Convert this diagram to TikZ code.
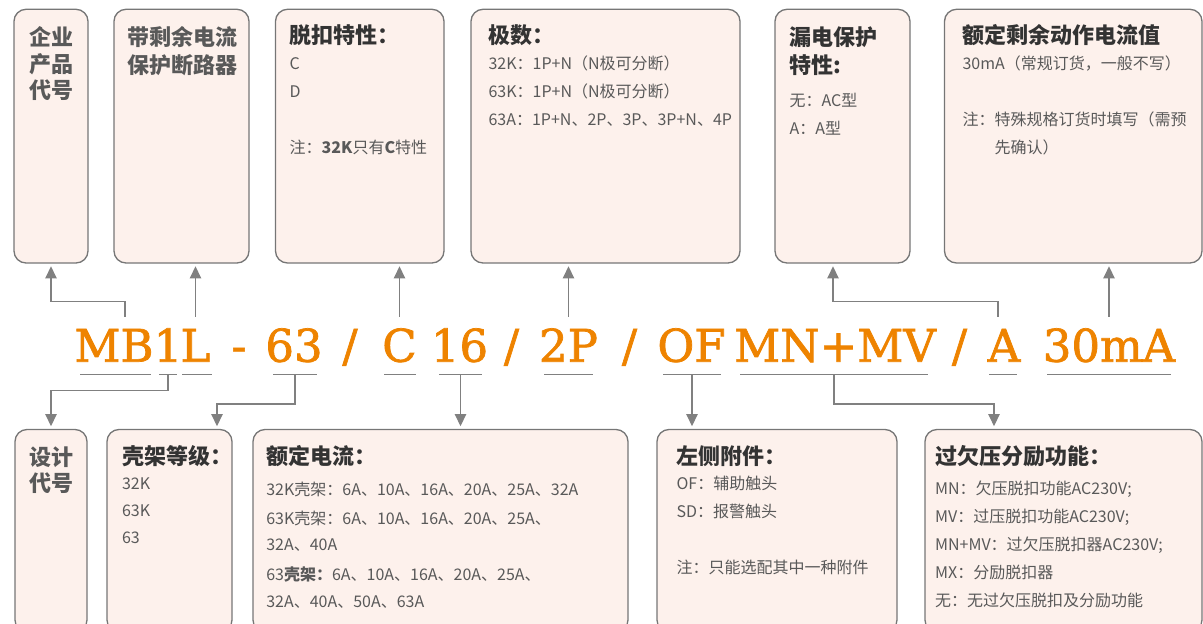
\documentclass[tikz,border=0pt]{standalone}
\usepackage{fontspec}
\setmainfont{Noto Sans CJK SC}
\newfontfamily\codefont{DejaVu Serif}[FakeBold=1.6]
\usetikzlibrary{arrows.meta,positioning,fit,calc}
\definecolor{boxfill}{RGB}{253,241,236}
\definecolor{boxgray}{RGB}{118,118,118}
\definecolor{linegray}{RGB}{128,128,128}
\definecolor{codeorange}{RGB}{238,131,0}
\definecolor{headdark}{RGB}{51,51,51}
\definecolor{bodygray}{RGB}{89,89,89}
\newcommand{\headfnt}{\fontsize{16.5pt}{21pt}\selectfont\bfseries\color{headdark}}
\newcommand{\bodyfnt}{\fontsize{12pt}{21pt}\selectfont}

\begin{document}
\begin{tikzpicture}[x=0.75pt, y=-0.75pt,
  tbox/.style={draw=boxgray, fill=boxfill, line width=1pt, rounded corners=9pt, inner sep=0pt},
  boxtext/.style={anchor=north west, align=left, inner sep=0pt, font=\bodyfnt, text=bodygray},
  codetxt/.style={font=\codefont\fontsize{33.75pt}{40pt}\selectfont, text=codeorange,
                  inner sep=0pt, text height=33.5pt, text depth=0pt, anchor=base},
  uline/.style={draw=linegray, line width=1pt},
  conn/.style={draw=linegray, line width=1pt, -{Triangle[length=9pt, width=8.5pt]}, shorten >=2pt}
]
\useasboundingbox (0,0) rectangle (1203,624);

% top row of boxes
\node[tbox, fit={(14,9.3) (88,263)}] (tcompany) {};
\node[tbox, fit={(114,9.3) (249,263)}] (tproduct) {};
\node[tbox, fit={(275.5,9.3) (444,263)}] (ttrip) {};
\node[tbox, fit={(471,9.3) (740,263)}] (tpole) {};
\node[tbox, fit={(775,9.3) (910,263)}] (tleak) {};
\node[tbox, fit={(944.5,9.3) (1202,263)}] (trated) {};

\node[boxtext, font=\headfnt] (tcompany-txt) at ($(tcompany.north west)+(16,17.7)$)
  {企业\\[-1pt]产品\\[-1pt]代号};
\node[boxtext, font=\headfnt] (tproduct-txt) at ($(tproduct.north west)+(14,17.7)$)
  {带剩余电流\\保护断路器};
\node[boxtext] (ttrip-txt) at ($(ttrip.north west)+(14.5,16)$)
  {{\headfnt 脱扣特性：}\\[-2pt]
   C\\
   D\\[21pt]
   注：\textbf{32K}只有\textbf{C}特性};
\node[boxtext] (tpole-txt) at ($(tpole.north west)+(18,16)$)
  {{\headfnt 极数：}\\[-2pt]
   32K：1P+N（N极可分断）\\
   63K：1P+N（N极可分断）\\
   63A：1P+N、2P、3P、3P+N、4P};
\node[boxtext] (tleak-txt) at ($(tleak.north west)+(15,17.7)$)
  {{\headfnt 漏电保护}\\
   {\headfnt 特性:}\\[4pt]
   无：AC型\\
   A：A型};
\node[boxtext] (trated-txt) at ($(trated.north west)+(18.5,16)$)
  {{\headfnt 额定剩余动作电流值}\\[-2pt]
   30mA（常规订货，一般不写）\\[21pt]
   注：特殊规格订货时填写（需预\\
   \hspace*{2em}先确认）};

% bottom row of boxes
\node[tbox, fit={(15,429.5) (87,632)}] (bdesign) {};
\node[tbox, fit={(107,429.5) (232,632)}] (bframe) {};
\node[tbox, fit={(253,429.5) (628,632)}] (bcurrent) {};
\node[tbox, fit={(657,429.5) (897,632)}] (baccess) {};
\node[tbox, fit={(925,429.5) (1202,632)}] (bvolt) {};

\node[boxtext, font=\headfnt] (bdesign-txt) at ($(bdesign.north west)+(15,17.5)$)
  {设计\\[-1.5pt]代号};
\node[boxtext] (bframe-txt) at ($(bframe.north west)+(15.5,16.5)$)
  {{\headfnt 壳架等级：}\\[-2.5pt]
   32K\\[-0.75pt]
   63K\\[-0.75pt]
   63};
\node[boxtext] (bcurrent-txt) at ($(bcurrent.north west)+(13.7,16.5)$)
  {{\headfnt 额定电流：}\\[2pt]
   32K壳架：6A、10A、16A、20A、25A、32A\\[0.75pt]
   63K壳架：6A、10A、16A、20A、25A、\\[-1.5pt]
   32A、40A\\[1.5pt]
   63\textbf{壳架：}6A、10A、16A、20A、25A、\\[-0.75pt]
   32A、40A、50A、63A};
\node[boxtext] (baccess-txt) at ($(baccess.north west)+(20,16.5)$)
  {{\headfnt 左侧附件：}\\[-2.5pt]
   OF：辅助触头\\
   SD：报警触头\\[21pt]
   注：只能选配其中一种附件};
\node[boxtext] (bvolt-txt) at ($(bvolt.north west)+(10.5,16.5)$)
  {{\headfnt 过欠压分励功能：}\\[1pt]
   MN：欠压脱扣功能AC230V;\\
   MV：过压脱扣功能AC230V;\\
   MN+MV：过欠压脱扣器AC230V;\\
   MX：分励脱扣器\\
   无：无过欠压脱扣及分励功能};

% model code
\node[codetxt] (mb) at (114,361.7) {MB};
\node[codetxt] (one) at (168,361.7) {1};
\node[codetxt] (l) at (195.5,361.7) {L};
\node[codetxt] (dash) at (239,361.7) {-};
\node[codetxt] (sixtythree) at (294,361.7) {63};
\node[codetxt] (sl1) at (350,361.7) {/};
\node[codetxt] (c) at (399.5,361.7) {C};
\node[codetxt] (sixteen) at (459.5,361.7) {16};
\node[codetxt] (sl2) at (511.5,361.7) {/};
\node[codetxt] (twop) at (568.5,361.7) {2P};
\node[codetxt] (sl3) at (629.5,361.7) {/};
\node[codetxt] (of) at (691.5,361.7) {OF};
\node[codetxt] (mnmv) at (835,361.7) {MN+MV};
\node[codetxt] (sl4) at (959.5,361.7) {/};
\node[codetxt] (a) at (1004,361.7) {A};
\node[codetxt] (ma) at (1109,361.7) {30mA};

% underlines
\foreach \nm/\xa/\xb in {mb/80/151, one/159/177, l/182/212, sixtythree/273/317,
    c/384/416, sixteen/439/482, twop/544/593, of/663/721, mnmv/740/928,
    a/989/1017, ma/1047/1171}
  \draw[uline] (\xa,374.3) -- (\xb,374.3) coordinate[midway] (u-\nm);

% connectors up
\draw[conn] ($(mb.north)+(11,0)$) -- ++(0,-15.3) -| (tcompany.south);
\draw[conn] (l.north) -- (l.north |- tproduct.south);
\draw[conn] (c.north) -- (c.north |- ttrip.south);
\draw[conn] (twop.north) -- (twop.north |- tpole.south);
\draw[conn] ($(a.north)+(-6,0)$) -- ++(0,-15.3) -| ($(tleak.south)+(-9.5,0)$);
\draw[conn] (ma.north) -- (ma.north |- trated.south);

% connectors down
\draw[conn] (u-one) -- ++(0,16.4) -| (bdesign.north);
\draw[conn] (u-sixtythree) -- ++(0,29.7) -| ($(bframe.north)+(47.5,0)$);
\draw[conn] (u-sixteen) -- (u-sixteen |- bcurrent.north);
\draw[conn] (u-of) -- (u-of |- baccess.north);
\draw[conn] (u-mnmv) -- ++(0,29.7) -| ($(bvolt.north)+(-69.5,0)$);
\end{tikzpicture}
\end{document}
